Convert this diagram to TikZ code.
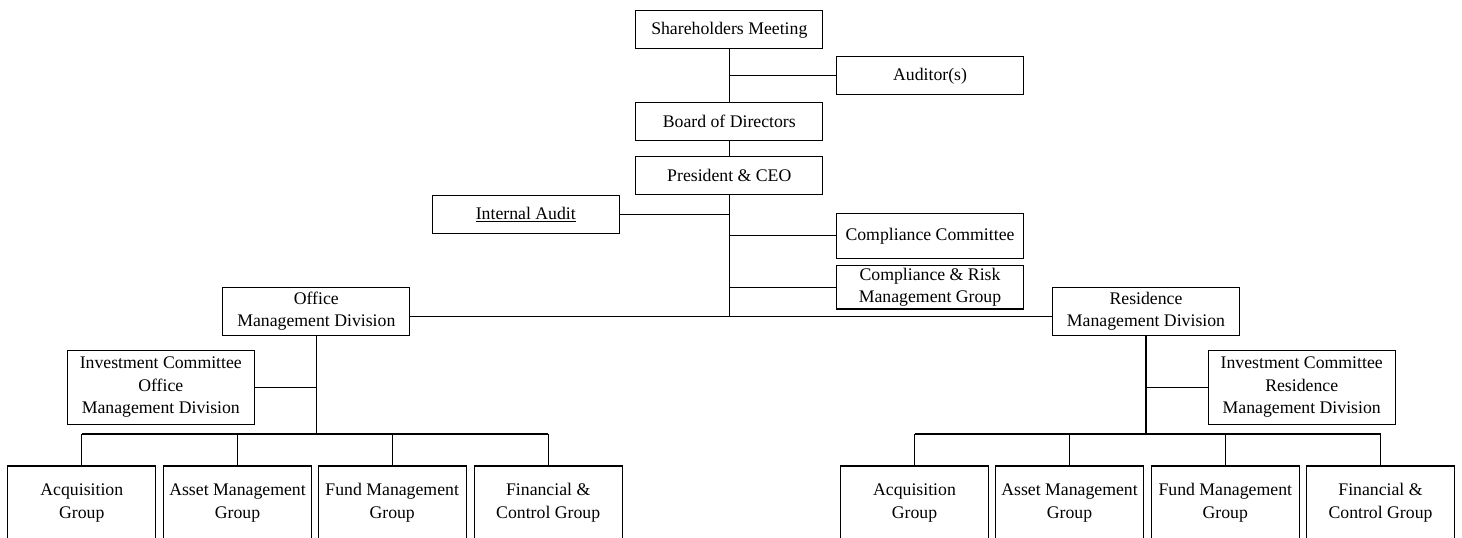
\documentclass[tikz,border=0pt]{standalone}
\usepackage{fontspec}
\setmainfont{Liberation Serif}
\begin{document}
\begin{tikzpicture}[x=0.75pt,y=-0.75pt,
  orgbox/.style={draw,line width=0.8pt,align=center,inner sep=1pt,
    minimum width=140.2pt,minimum height=28.7pt,
    font=\fontsize{13.3}{17}\selectfont},
  grpbox/.style={orgbox,minimum width=110.8pt,minimum height=55.5pt},
  link/.style={line width=0.8pt}]
\useasboundingbox (0,0) rectangle (1462,538);
\clip (0,0) rectangle (1462,538);
\path
  coordinate (hub) at (729.3,316.7)
  coordinate (lbar) at (316.7,434)
  coordinate (rbar) at (1146,434)
  ;
\node[orgbox] (share) at (729.3,29.8) {Shareholders Meeting};
\node[orgbox] (aud) at (930.1,75.8) {Auditor(s)};
\node[orgbox] (board) at (729.3,121.7) {Board of Directors};
\node[orgbox] (pres) at (729.3,175.2) {President \& CEO};
\node[orgbox] (ia) at (525.8,214.8) {\underline{Internal Audit}};
\node[orgbox,minimum height=33.75pt] (cc) at (930,235.8) {Compliance Committee};
\node[orgbox,minimum height=32.5pt] (crm) at (930,287.3) {Compliance \& Risk\\Management Group};
\node[orgbox,minimum height=35.8pt] (omd) at (316.3,311.2) {Office\\Management Division};
\node[orgbox,minimum height=35.8pt] (rmd) at (1146,311.2) {Residence\\Management Division};
\node[orgbox,minimum height=55.7pt] (icl) at (160.8,387.2) {Investment Committee\\Office\\Management Division};
\node[orgbox,minimum height=55.7pt] (icr) at (1301.7,387.2) {Investment Committee\\Residence\\Management Division};
\node[grpbox] (lacq) at (81.8,503) {Acquisition\\Group};
\node[grpbox] (lasset) at (237.5,503) {Asset Management\\Group};
\node[grpbox] (lfund) at (392.2,503) {Fund Management\\Group};
\node[grpbox] (lfin) at (548.2,503) {Financial \&\\Control Group};
\node[grpbox] (racq) at (914.5,503) {Acquisition\\Group};
\node[grpbox] (rasset) at (1069.5,503) {Asset Management\\Group};
\node[grpbox] (rfund) at (1225.3,503) {Fund Management\\Group};
\node[grpbox] (rfin) at (1380.5,503) {Financial \&\\Control Group};
\draw[link] (share) -- (board);
\draw[link] (board) -- (pres);
\draw[link] (pres) -- (hub);
\draw[link] (aud.west) -- (aud.west -| share.south);
\draw[link] (ia.east) -- (ia.east -| pres.south);
\draw[link] (cc.west) -- (cc.west -| pres.south);
\draw[link] (crm.west) -- (crm.west -| pres.south);
\draw[link] (omd.east |- hub) -- (rmd.west |- hub);
\draw[link] (omd.south) -- (omd.south |- lbar);
\draw[link] (icl.east) -- (icl.east -| omd.south);
\draw[link] (lacq.north |- lbar) -- (lfin.north |- lbar);
\foreach \g in {lacq,lasset,lfund,lfin}
  \draw[link] (\g.north) -- (\g.north |- lbar);
\draw[link] (rmd.south) -- (rmd.south |- rbar);
\draw[link] (icr.west) -- (icr.west -| rmd.south);
\draw[link] (racq.north |- rbar) -- (rfin.north |- rbar);
\foreach \g in {racq,rasset,rfund,rfin}
  \draw[link] (\g.north) -- (\g.north |- rbar);
\end{tikzpicture}
\end{document}
